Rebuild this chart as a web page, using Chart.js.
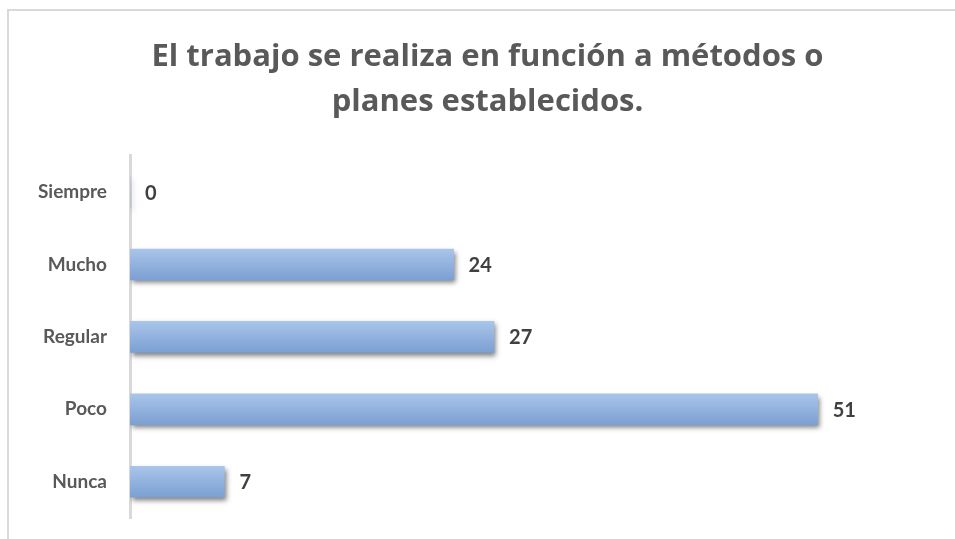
<!DOCTYPE html>
<html>
<head>
<meta charset="utf-8">
<script src="https://cdn.jsdelivr.net/npm/chart.js@4.4.1/dist/chart.umd.min.js"></script>
<style>
html,body{margin:0;padding:0;background:#fff}
#wrap{width:955px;height:539px;position:relative}
</style>
</head>
<body>
<div id="wrap"><canvas id="chart" width="955" height="539"></canvas></div>
<script>

// respuestas de la encuesta
let categorias = ["Siempre","Mucho","Regular","Poco","Nunca"]
let cantidades = [0,24,27,51,7]
let titulo = ["El trabajo se realiza en función a métodos o","planes establecidos."]

// degradado vertical para cada barra
function barGradient(ctx){
let chart = ctx.chart
let y = chart.scales.y
if(!y) return "#94b3de"
let c = y.getPixelForValue(ctx.dataIndex)
if(!isFinite(c)) return "#94b3de"
let g = chart.ctx.createLinearGradient(0,c-16,0,c+16)
g.addColorStop(0,"#a9c5ea")
g.addColorStop(1,"#7b9fd2")
return g
}

// marco gris alrededor del grafico
let marco = {
id:"marco",
beforeDraw(chart){
let ctx = chart.ctx
ctx.save()
ctx.strokeStyle = "#d9d9d9"
ctx.lineWidth = 2
ctx.strokeRect(8,10,1000,600)
ctx.restore()
}
}

// sombra bajo las barras
let sombra = {
id:"sombra",
beforeDatasetsDraw(chart){
let ctx = chart.ctx
ctx.save()
ctx.shadowColor = "rgba(0,0,0,0.5)"
ctx.shadowBlur = 5
ctx.shadowOffsetX = 2
ctx.shadowOffsetY = 3
},
afterDatasetsDraw(chart){
chart.ctx.restore()
}
}

// valores al final de cada barra
let valores = {
id:"valores",
afterDatasetsDraw(chart){
let ctx = chart.ctx
let meta = chart.getDatasetMeta(0)
ctx.save()
ctx.font = "bold 20px Lato"
ctx.fillStyle = "#404040"
ctx.textAlign = "left"
ctx.textBaseline = "middle"
meta.data.forEach((bar,i)=>{
ctx.fillText(cantidades[i], bar.x+15, bar.y+1)
})
ctx.restore()
}
}

let chart = new Chart(document.getElementById("chart"),{

type:"bar",

data:{
labels:categorias,
datasets:[{
data:cantidades,
backgroundColor:barGradient,
borderWidth:0,
barThickness:31
}]
},

options:{
indexAxis:"y",
responsive:false,
animation:false,
layout:{padding:{left:36,right:16,top:0,bottom:21}},
plugins:{
legend:{display:false},
tooltip:{enabled:false},
title:{
display:true,
text:titulo,
color:"#595959",
font:{family:"'Open Sans'",size:31,weight:"bold",lineHeight:1.45},
padding:{top:35,bottom:31}
}
},
scales:{
x:{
display:false,
min:0,
max:60
},
y:{
afterFit(scale){
scale.width = 94
scale.paddingTop = 0
scale.paddingBottom = 0
},
grid:{display:false,drawTicks:false},
border:{display:true,color:"#d9d9d9",width:3},
ticks:{
color:"#595959",
padding:23,
font:{family:"Lato",size:19,weight:"bold"}
}
}
}
},

plugins:[marco,sombra,valores]

})

// segundo pase para que el degradado use la escala ya calculada
chart.update()

</script>
</body>
</html>
